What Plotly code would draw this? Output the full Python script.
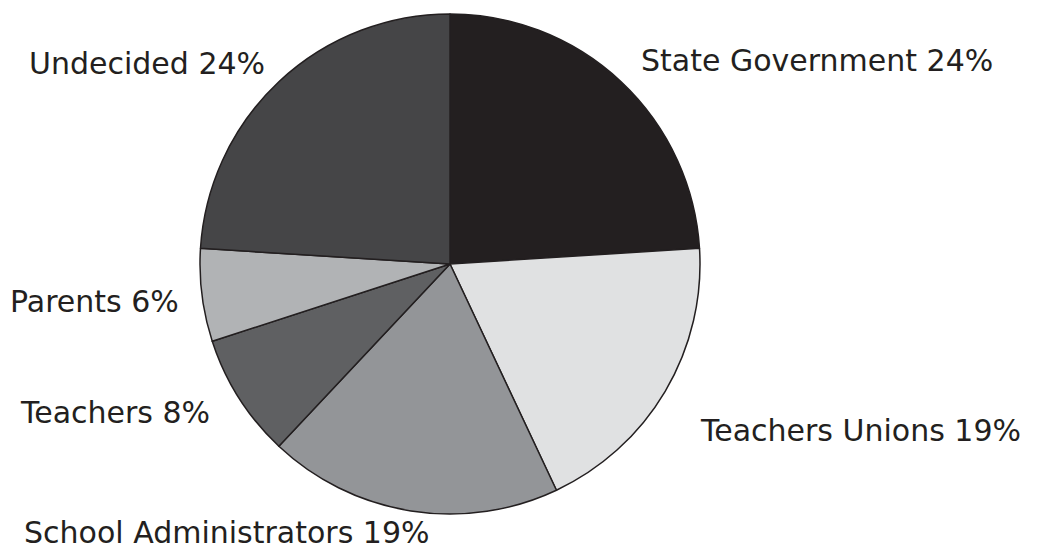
import plotly.graph_objects as go

labels = ["State Government", "Teachers Unions", "School Administrators",
          "Teachers", "Parents", "Undecided"]
values = [24, 19, 19, 8, 6, 24]
colors = ["#231f20", "#e0e1e2", "#939598", "#5f6062", "#b1b3b5", "#454547"]

# label placement (pixels from top-left) for the outside labels
label_pos = {
    "State Government": (641, 60),
    "Teachers Unions": (700, 430),
    "School Administrators": (24, 550),
    "Teachers": (20, 412),
    "Parents": (10, 301),
    "Undecided": (29, 64),
}

W, H = 1037, 550
cx, cy, r = 450, 264, 250

fig = go.Figure(go.Pie(
    labels=labels, values=values,
    sort=False, direction="clockwise", rotation=0,
    marker=dict(colors=colors, line=dict(color="#231f20", width=1.5)),
    textinfo="none", hoverinfo="label+percent",
    domain=dict(x=[(cx - r) / W, (cx + r) / W],
                y=[(H - cy - r) / H, (H - cy + r) / H]),
    showlegend=False,
))

for lab, val in zip(labels, values):
    px_, py_ = label_pos[lab]
    bottom = py_ >= H  # bottom label sits on the lower edge
    fig.add_annotation(
        x=px_ / W, y=1 - py_ / H, xref="paper", yref="paper",
        xanchor="left", yanchor="bottom" if bottom else "middle",
        showarrow=False, borderpad=0, borderwidth=0,
        text=f"{lab} {val}%",
        font=dict(family="DejaVu Sans", size=30, color="#231f20"),
    )

fig.update_layout(
    width=W, height=H,
    margin=dict(l=0, r=0, t=0, b=0),
    paper_bgcolor="white", plot_bgcolor="white",
)

# drop the default body margin so the figure fills the window
fig.write_html("out.html", config={"displayModeBar": False},
               post_script="document.body.style.margin='0';")
